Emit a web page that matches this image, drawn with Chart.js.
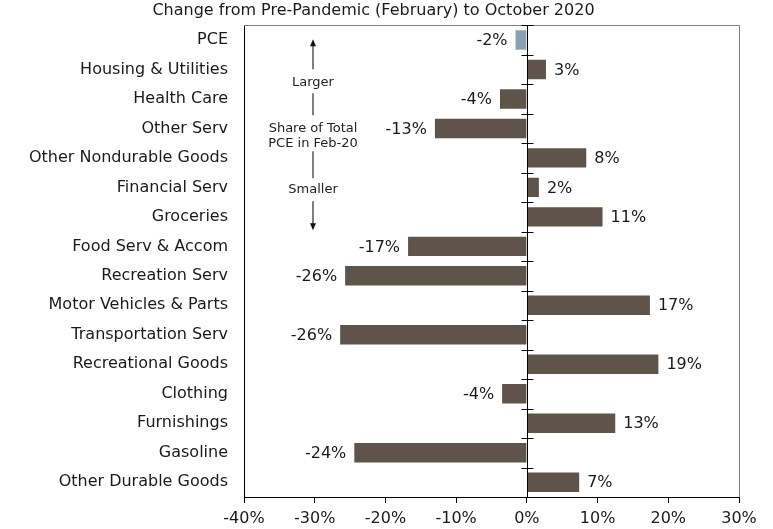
<!DOCTYPE html>
<html><head><meta charset="utf-8">
<script src="https://cdn.jsdelivr.net/npm/chart.js@4/dist/chart.umd.min.js"></script>
<style>html,body{margin:0;padding:0;background:#fff;}</style>
</head><body>
<canvas id="c" width="773" height="529"></canvas>
<script>
const categories = ['PCE','Housing & Utilities','Health Care','Other Serv','Other Nondurable Goods','Financial Serv','Groceries','Food Serv & Accom','Recreation Serv','Motor Vehicles & Parts','Transportation Serv','Recreational Goods','Clothing','Furnishings','Gasoline','Other Durable Goods'];
const changePct = [-1.6, 2.7, -3.8, -13.0, 8.4, 1.7, 10.7, -16.8, -25.7, 17.4, -26.4, 18.6, -3.5, 12.5, -24.4, 7.4];
const valueLabels = ['-2%','3%','-4%','-13%','8%','2%','11%','-17%','-26%','17%','-26%','19%','-4%','13%','-24%','7%'];
const xTicks = [-40,-30,-20,-10,0,10,20,30];
const titleText = 'Change from Pre-Pandemic (February) to October 2020';
const noteLines = ['Larger','Share of Total','PCE in Feb-20','Smaller'];

const FONT = '"DejaVu Sans", Verdana, sans-serif';
const barColors = categories.map(c => c === 'PCE' ? '#8ba0b1' : '#5f5449');

const extras = {
  id: 'extras',
  afterDatasetsDraw(chart) {
    const {ctx, chartArea: a, scales: {x, y}} = chart;
    ctx.save();
    // top & right frame
    ctx.strokeStyle = '#808080'; ctx.lineWidth = 1;
    ctx.beginPath();
    ctx.moveTo(a.left, Math.round(a.top) + 0.5);
    ctx.lineTo(Math.round(a.right) + 0.5, Math.round(a.top) + 0.5);
    ctx.lineTo(Math.round(a.right) + 0.5, a.bottom);
    ctx.stroke();
    // zero line
    const x0 = Math.round(x.getPixelForValue(0)) + 0.5;
    ctx.strokeStyle = '#000';
    ctx.beginPath(); ctx.moveTo(x0, a.top); ctx.lineTo(x0, a.bottom); ctx.stroke();
    // category boundary ticks on zero line
    const rowH = (a.bottom - a.top) / categories.length;
    ctx.beginPath();
    for (let i = 0; i < categories.length; i++) {
      const yy = Math.round(y.getPixelForValue(i) - rowH / 2) + 0.5;
      ctx.moveTo(x0 - 6, yy); ctx.lineTo(x0 + 6, yy);
    }
    ctx.stroke();
    // value labels
    const meta = chart.getDatasetMeta(0);
    ctx.fillStyle = '#1a1a1a';
    ctx.font = '16px ' + FONT;
    ctx.textBaseline = 'middle';
    meta.data.forEach((el, i) => {
      const v = changePct[i];
      if (v >= 0) { ctx.textAlign = 'left'; ctx.fillText(valueLabels[i], el.x + 8, el.y + 1); }
      else { ctx.textAlign = 'right'; ctx.fillText(valueLabels[i], el.x - 8, el.y + 1); }
    });
    // annotation: share of total
    const cx = a.left + 69;
    const t = a.top;
    ctx.strokeStyle = '#555'; ctx.lineWidth = 1.5;
    const seg = (y1, y2) => { ctx.beginPath(); ctx.moveTo(cx, t + y1); ctx.lineTo(cx, t + y2); ctx.stroke(); };
    seg(18, 44); seg(68, 90); seg(126, 153); seg(176, 200);
    ctx.fillStyle = '#111';
    ctx.beginPath(); ctx.moveTo(cx, t + 14); ctx.lineTo(cx - 3, t + 21); ctx.lineTo(cx + 3, t + 21); ctx.closePath(); ctx.fill();
    ctx.beginPath(); ctx.moveTo(cx, t + 205); ctx.lineTo(cx - 3, t + 198); ctx.lineTo(cx + 3, t + 198); ctx.closePath(); ctx.fill();
    ctx.fillStyle = '#222';
    ctx.font = '13px ' + FONT;
    ctx.textAlign = 'center';
    ctx.fillText(noteLines[0], cx, t + 57);
    ctx.fillText(noteLines[1], cx, t + 103);
    ctx.fillText(noteLines[2], cx, t + 118);
    ctx.fillText(noteLines[3], cx, t + 164);
    ctx.restore();
  }
};

new Chart(document.getElementById('c'), {
  type: 'bar',
  data: {
    labels: categories,
    datasets: [{
      data: changePct,
      backgroundColor: barColors,
      borderWidth: 0,
      barPercentage: 0.66,
      categoryPercentage: 1.0
    }]
  },
  options: {
    indexAxis: 'y',
    responsive: false,
    animation: false,
    devicePixelRatio: 1,
    layout: { padding: { left: 8, right: 34, top: 0, bottom: 0 } },
    plugins: {
      legend: { display: false },
      tooltip: { enabled: false },
      title: {
        display: true,
        text: titleText,
        color: '#1a1a1a',
        font: { family: FONT, size: 16, weight: 'normal' },
        padding: { top: 1, bottom: 5 }
      }
    },
    scales: {
      x: {
        type: 'linear',
        min: xTicks[0],
        max: xTicks[xTicks.length - 1],
        afterBuildTicks(scale) { scale.ticks = xTicks.map(v => ({ value: v })); },
        afterFit(scale) { scale.height = 32; },
        ticks: {
          color: '#1a1a1a',
          font: { family: FONT, size: 16 },
          padding: 6,
          maxRotation: 0,
          callback: v => v + '%'
        },
        grid: { drawOnChartArea: false, drawTicks: true, tickLength: 6, color: '#000', lineWidth: 1 },
        border: { display: true, color: '#000', width: 1 }
      },
      y: {
        afterFit(scale) { scale.width = 236; },
        ticks: {
          color: '#1a1a1a',
          font: { family: FONT, size: 16 },
          padding: 8,
          autoSkip: false
        },
        grid: { display: false },
        border: { display: true, color: '#000', width: 1 }
      }
    }
  },
  plugins: [extras]
});
</script>
</body></html>
